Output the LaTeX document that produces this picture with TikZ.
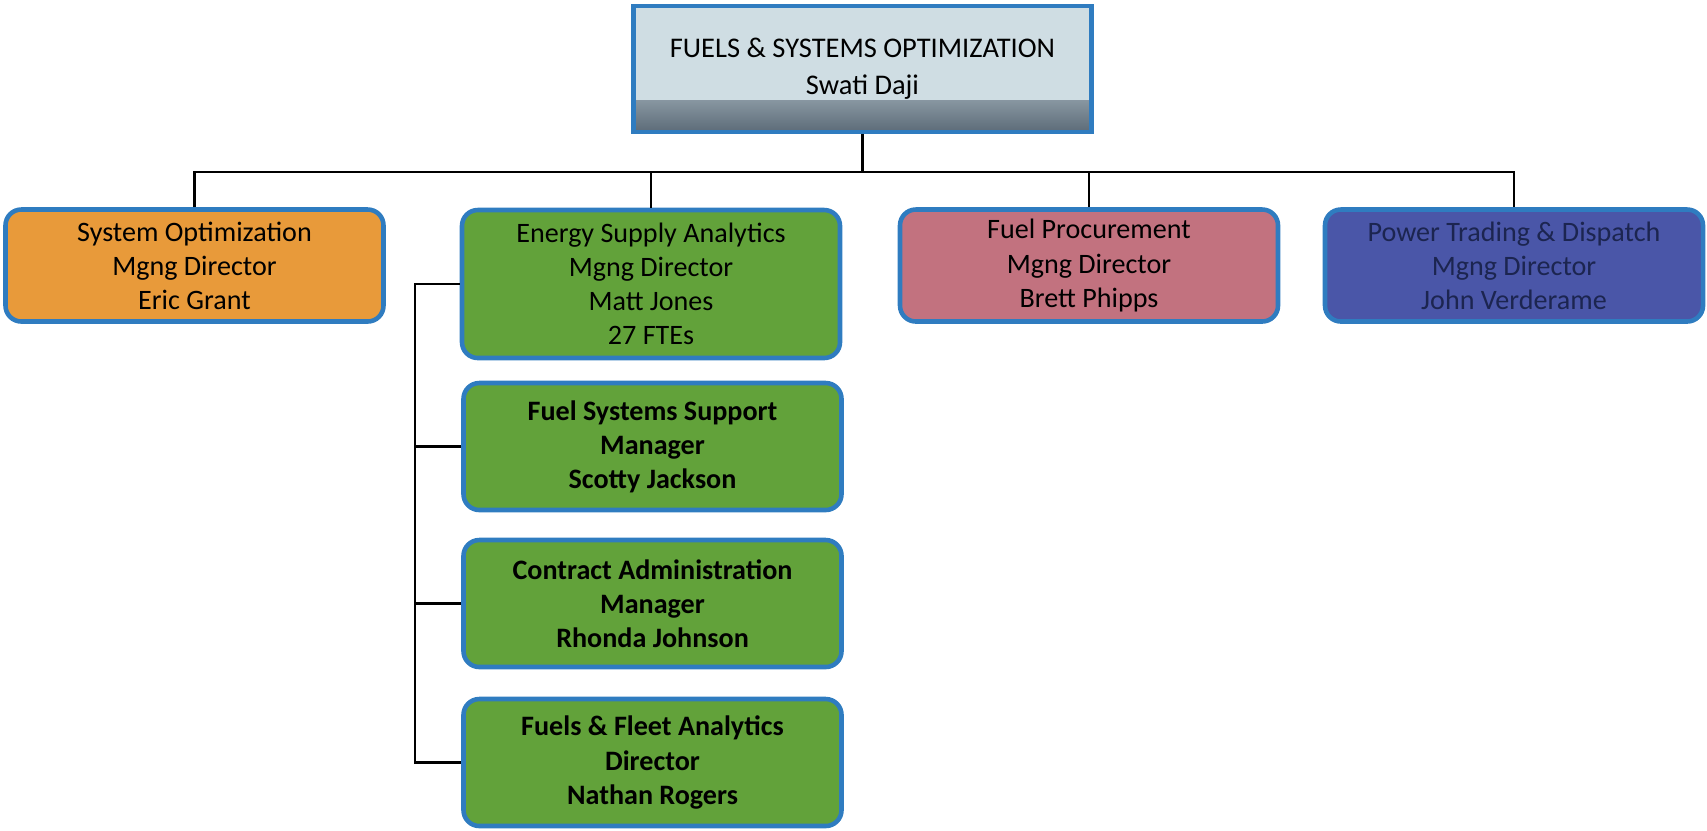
\documentclass[tikz,border=0pt]{standalone}
\usepackage{fontspec}
\setmainfont{Carlito}
\usepackage{tikz}
\usetikzlibrary{positioning, calc}
\definecolor{boxline}{HTML}{2F7CC0}
\definecolor{headfill}{HTML}{CFDDE3}
\definecolor{headdark}{HTML}{5C6B78}
\definecolor{optorange}{HTML}{E89A3A}
\definecolor{anagreen}{HTML}{62A23A}
\definecolor{procpink}{HTML}{C2727F}
\definecolor{tradeblue}{HTML}{4A56A8}
\definecolor{tradetext}{HTML}{1C2550}
\tikzset{
	orgnode/.style={
			rectangle,
			rounded corners=4.5pt,
			draw=boxline,
			line width=1.3pt,
			align=center,
			inner sep=0pt,
			minimum width=3.78cm,
			minimum height=1.12cm,
			font=\fontsize{8}{9.7}\selectfont
		},
	headnode/.style={
			orgnode,
			rounded corners=0pt,
			fill=headfill,
			minimum width=4.58cm,
			minimum height=1.26cm,
			font=\fontsize{8.1}{10.6}\selectfont,
			path picture={
					\shade[top color=headfill, bottom color=headdark, middle color=headfill!75!headdark]
					($(path picture bounding box.south west)+(0,0.32)$)
					rectangle (path picture bounding box.south east);
				}
		},
	leadnode/.style={
			orgnode,
			fill=#1
		},
	subnode/.style={
			orgnode,
			fill=anagreen,
			minimum height=1.27cm,
			font=\fontsize{8}{9.7}\selectfont\bfseries
		},
	link/.style={
			draw=black,
			line width=0.8pt
		}
}

\begin{document}
\begin{tikzpicture}
	\useasboundingbox (0,0) rectangle (17.07,-8.30);

	\node[headnode] (top) at (8.625, -0.69) {FUELS \& SYSTEMS OPTIMIZATION\\Swati Daji};

	\node[leadnode=optorange] (sysopt) at (1.945, -2.655) {System Optimization\\Mgng Director\\Eric Grant};
	\node[leadnode=anagreen, minimum height=1.48cm] (esa) at (6.51, -2.84) {Energy Supply Analytics\\Mgng Director\\Matt Jones\\27 FTEs};
	\node[leadnode=procpink] (fproc) at (10.89, -2.655) {Fuel Procurement\\Mgng Director\\Brett Phipps};
	\node[leadnode=tradeblue, text=tradetext] (ptd) at (15.14, -2.655) {Power Trading \& Dispatch\\Mgng Director\\John Verderame};

	\node[subnode] (fss) at (6.525, -4.465) {Fuel Systems Support\\Manager\\Scotty Jackson};
	\node[subnode] (cadm) at (6.525, -6.035) {Contract Administration\\Manager\\Rhonda Johnson};
	\node[subnode] (ffa) at (6.525, -7.625) {Fuels \& Fleet Analytics\\Director\\Nathan Rogers};

	% top level tree
	\coordinate (bus) at (0, -1.72);
	\draw[link] (top.south) -- (top.south |- bus);
	\draw[link] (sysopt.north) -- (sysopt.north |- bus) -- (ptd.north |- bus) -- (ptd.north);
	\draw[link] (esa.north) -- (esa.north |- bus);
	\draw[link] (fproc.north) -- (fproc.north |- bus);

	% analytics group
	\coordinate (spine) at (4.15, 0);
	\draw[link] (esa.west) -- (esa.west -| spine) -- (ffa.west -| spine) -- (ffa.west);
	\draw[link] (fss.west) -- (fss.west -| spine);
	\draw[link] (cadm.west) -- (cadm.west -| spine);
\end{tikzpicture}
\end{document}
